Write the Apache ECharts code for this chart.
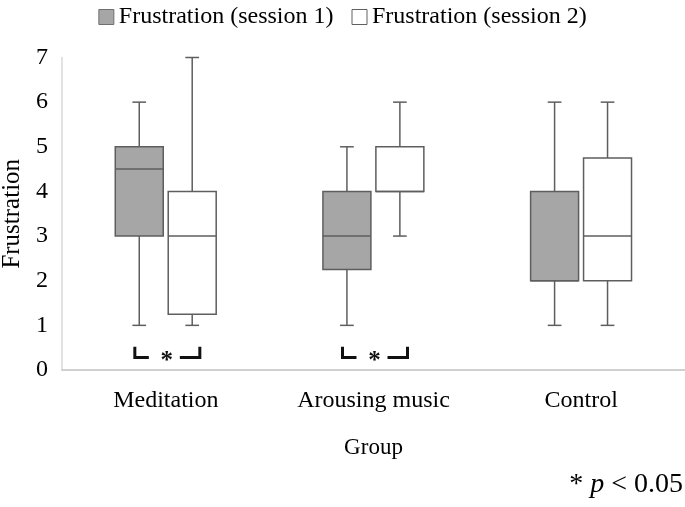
<!DOCTYPE html>
<html>
<head>
<meta charset="utf-8">
<script src="https://cdn.jsdelivr.net/npm/echarts@6/dist/echarts.min.js"></script>
<style>html,body{margin:0;padding:0;background:#fff}#c{width:685px;height:507px}</style>
</head>
<body>
<div id="c"></div>
<script>
// ---- data ----
const groups = ['Meditation', 'Arousing music', 'Control'];
// [min, Q1, median, Q3, max]
const session1 = [[1, 3, 4.5, 5, 6], [1, 2.25, 3, 4, 5], [1, 2, 2, 4, 6]];
const session2 = [[1, 1.25, 3, 4, 7], [3, 4, 4, 5, 6], [1, 2, 3, 4.75, 6]];
const yTicks = [0, 1, 2, 3, 4, 5, 6, 7];
const significantGroups = ['Meditation', 'Arousing music'];
const seriesNames = ['Frustration (session 1)', 'Frustration (session 2)'];

const FONT = 'Liberation Serif';
const EDGE = '#5e5e5e';
const GRAYFILL = '#a6a6a6';

function boxRender(offsetFrac, fill) {
  return function (params, api) {
    const cat = api.value(0);
    const band = api.size([1, 0])[0];
    const cx = api.coord([cat, 0])[0] + offsetFrac * band;
    const w = band * 0.231;
    const cap = band * 0.066;
    const y = [1, 2, 3, 4, 5].map(d => api.coord([cat, api.value(d)])[1]);
    const ls = { stroke: EDGE, lineWidth: 1.5 };
    return {
      type: 'group',
      children: [
        { type: 'line', shape: { x1: cx, y1: y[4], x2: cx, y2: y[3] }, style: ls },
        { type: 'line', shape: { x1: cx, y1: y[0], x2: cx, y2: y[1] }, style: ls },
        { type: 'line', shape: { x1: cx - cap / 2, y1: y[4], x2: cx + cap / 2, y2: y[4] }, style: ls },
        { type: 'line', shape: { x1: cx - cap / 2, y1: y[0], x2: cx + cap / 2, y2: y[0] }, style: ls },
        { type: 'rect', shape: { x: cx - w / 2, y: y[3], width: w, height: y[1] - y[3] },
          style: { fill: fill, stroke: EDGE, lineWidth: 1.5 } },
        { type: 'line', shape: { x1: cx - w / 2, y1: y[2], x2: cx + w / 2, y2: y[2] }, style: ls }
      ]
    };
  };
}

function bracketRender(params, api) {
  const cat = api.value(0);
  const cx = api.coord([cat, 0])[0];
  const yTop = api.coord([cat, 0.52])[1];
  const yBot = api.coord([cat, 0.28])[1];
  const st = { stroke: '#111', lineWidth: 3, fill: null, lineJoin: 'miter' };
  return {
    type: 'group',
    children: [
      { type: 'polyline', shape: { points: [[cx - 31, yTop], [cx - 31, yBot], [cx - 17, yBot]] }, style: st },
      { type: 'polyline', shape: { points: [[cx + 14, yBot], [cx + 34, yBot], [cx + 34, yTop]] }, style: st },
      { type: 'text', x: cx + 1, y: yBot + 4,
        style: { text: '*', font: 'bold 25px ' + FONT, fill: '#111', align: 'center', verticalAlign: 'middle' } }
    ]
  };
}

const chart = echarts.init(document.getElementById('c'), null, { renderer: 'canvas' });

const axisCommonX = { type: 'category', data: groups, show: false };
const axisCommonY = { type: 'value', min: 0, max: 7, interval: 1, show: false };

chart.setOption({
  animation: false,
  textStyle: { fontFamily: FONT, color: '#000' },
  legend: {
    top: 0,
    left: 'center',
    icon: 'rect',
    itemWidth: 15,
    itemHeight: 15,
    itemGap: 18,
    textStyle: { fontFamily: FONT, fontSize: 24, color: '#000' },
    data: [
      { name: seriesNames[0], itemStyle: { color: GRAYFILL, borderColor: '#707070', borderWidth: 1 } },
      { name: seriesNames[1], itemStyle: { color: '#fff', borderColor: '#606060', borderWidth: 1 } }
    ]
  },
  grid: [
    { left: 62, top: 57.5, width: 623, bottom: 137, containLabel: false, outerBoundsMode: 'none' },
    { left: 62, top: 57.5, width: 623, bottom: 137, containLabel: false, outerBoundsMode: 'none' }
  ],
  xAxis: [
    {
      type: 'category', data: groups, gridIndex: 0,
      name: 'Group', nameLocation: 'middle', nameGap: 66,
      nameTextStyle: { fontFamily: FONT, fontSize: 23, color: '#000' },
      axisLine: { lineStyle: { color: '#d0d0d0', width: 2 } },
      axisTick: { show: false },
      axisLabel: { fontFamily: FONT, fontSize: 24, color: '#000', margin: 19 }
    },
    Object.assign({ gridIndex: 1 }, axisCommonX)
  ],
  yAxis: [
    {
      type: 'value', min: 0, max: 7, interval: 1, gridIndex: 0,
      name: 'Frustration', nameLocation: 'middle', nameGap: 36, nameRotate: 90,
      nameTextStyle: { fontFamily: FONT, fontSize: 25, color: '#000' },
      axisLine: { show: true, lineStyle: { color: '#d9d9d9', width: 1.5 } },
      axisTick: { show: false },
      splitLine: { show: false },
      axisLabel: { fontFamily: FONT, fontSize: 24, color: '#000', margin: 14,
        formatter: v => (yTicks.indexOf(v) >= 0 ? String(v) : '') }
    },
    Object.assign({ gridIndex: 1 }, axisCommonY)
  ],
  series: [
    {
      name: seriesNames[0], type: 'custom', xAxisIndex: 1, yAxisIndex: 1,
      itemStyle: { color: GRAYFILL },
      renderItem: boxRender(-0.128, GRAYFILL),
      encode: { x: 0, y: [1, 2, 3, 4, 5] },
      data: session1.map((d, i) => [i].concat(d))
    },
    {
      name: seriesNames[1], type: 'custom', xAxisIndex: 1, yAxisIndex: 1,
      itemStyle: { color: '#fff' },
      renderItem: boxRender(0.127, '#ffffff'),
      encode: { x: 0, y: [1, 2, 3, 4, 5] },
      data: session2.map((d, i) => [i].concat(d))
    },
    {
      name: 'significance', type: 'custom', xAxisIndex: 0, yAxisIndex: 0,
      renderItem: bracketRender,
      encode: { x: 0 },
      data: significantGroups.map(g => [groups.indexOf(g)]),
      silent: true
    }
  ],
  graphic: [
    {
      type: 'text', right: 2, top: 471,
      style: {
        text: '* {i|p} < 0.05',
        font: '28px ' + FONT,
        fill: '#000',
        rich: { i: { fontStyle: 'italic', fontFamily: FONT, fontSize: 28, fill: '#000' } }
      }
    }
  ]
});
</script>
</body>
</html>
